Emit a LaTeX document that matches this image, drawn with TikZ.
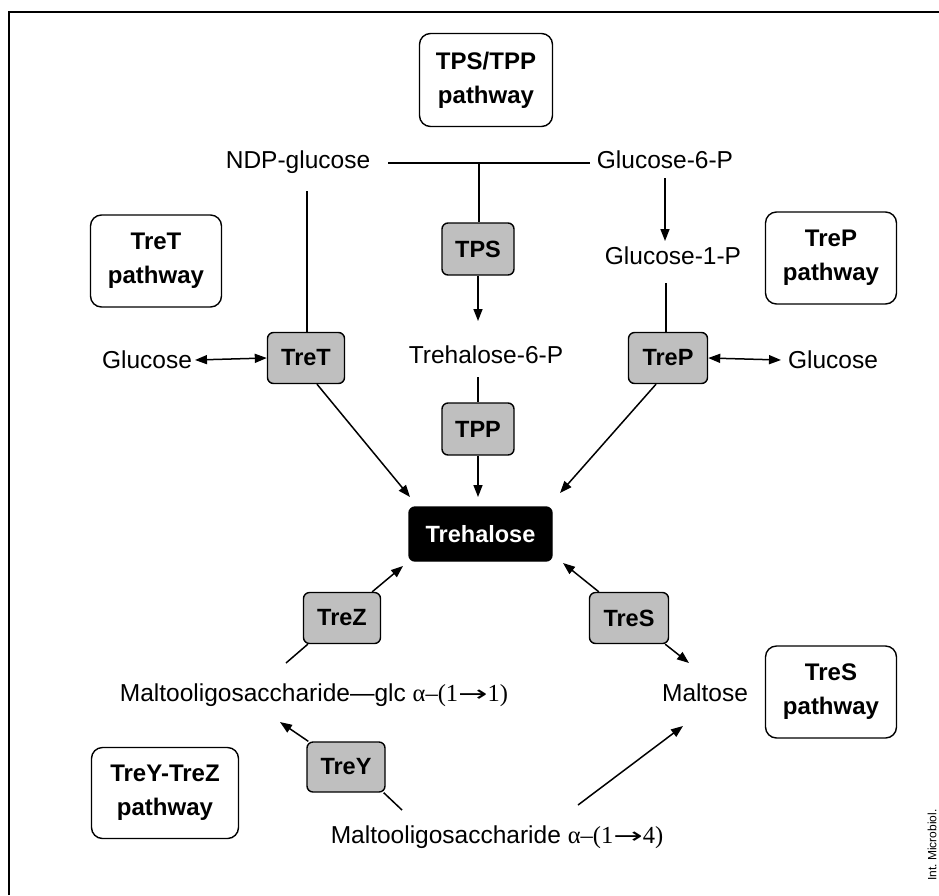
\documentclass[tikz,border=0pt]{standalone}
\usepackage{fontspec}
\setmainfont{Liberation Sans}
\newfontfamily\symfnt{Liberation Serif}
\newfontfamily\arrfnt{DejaVu Sans}
\usetikzlibrary{arrows.meta,calc}
\tikzset{
  lbl/.style={font=\fontsize{24.5}{29}\selectfont, inner sep=0pt, anchor=base},
  pw/.style={draw, line width=1.4pt, rounded corners=11pt, fill=white, align=center,
    font=\fontsize{24}{34}\selectfont\bfseries, inner sep=0pt,
    minimum width=131pt, minimum height=92pt},
  enz/.style={draw, line width=1.4pt, rounded corners=6pt, fill=black!25,
    font=\fontsize{23.5}{28}\selectfont\bfseries, inner sep=0pt,
    minimum width=77pt, minimum height=51pt},
  tre/.style={draw, line width=1.4pt, fill=black, text=white, rounded corners=6pt,
    font=\fontsize{23.5}{28}\selectfont\bfseries, inner sep=0pt,
    minimum width=143pt, minimum height=54pt},
  ln/.style={line width=1.5pt},
  arr/.style={ln, -{Triangle[length=12pt,width=9pt]}},
  darr/.style={ln, {Triangle[length=12pt,width=9pt]}-{Triangle[length=12pt,width=9pt]}},
}
\newcommand{\alphalink}[1]{{\symfnt α–(1{\arrfnt\fontsize{22}{26}\selectfont\scalebox{1.6}[1]{→}}#1)}}
\begin{document}
\begin{tikzpicture}[x=1pt,y=-1pt]
\useasboundingbox (0,0) rectangle (939,895);
% frame
\draw[line width=1.4pt] (9,895) -- (9,12) -- (939,12);

% pathway boxes
\node[pw, minimum width=133pt, minimum height=93pt] (tpsp) at (486,80) {TPS/TPP\\pathway};
\node[pw] (tretp) at (156,261) {TreT\\pathway};
\node[pw] (trepp) at (831,258) {TreP\\pathway};
\node[pw] (tresp) at (831,692) {TreS\\pathway};
\node[pw, minimum width=147pt, minimum height=91pt] (treyp) at (165,793) {TreY-TreZ\\pathway};

% enzymes
\node[enz, minimum width=72pt, minimum height=52pt] (tps) at (478,249) {TPS};
\node[enz] (tret) at (306,358) {TreT};
\node[enz, minimum width=79pt] (trep) at (668,358) {TreP};
\node[enz, minimum width=72pt, minimum height=52pt] (tpp) at (478,429) {TPP};
\node[enz] (trez) at (342,618) {TreZ};
\node[enz, minimum width=79pt] (tres) at (629,618) {TreS};
\node[enz, minimum width=78pt, minimum height=50pt] (trey) at (346,767) {TreY};

% trehalose
\node[tre] (treh) at (480.5,534) {Trehalose};

% metabolites
\node[lbl] (ndp) at (298,168) {NDP-glucose};
\node[lbl] (g6p) at (665,168) {Glucose-6-P};
\node[lbl] (g1p) at (673,264) {Glucose-1-P};
\node[lbl] (t6p) at (486,363) {Trehalose-6-P};
\node[lbl] (glcl) at (147,368) {Glucose};
\node[lbl] (glcr) at (833,368) {Glucose};
\node[lbl] (m11) at (314,701) {Maltooligosaccharide---glc \alphalink{1}};
\node[lbl] (malt) at (705,701) {Maltose};
\node[lbl] (m14) at (497,843) {Maltooligosaccharide \alphalink{4}};

\node[rotate=90, font=\fontsize{12}{14}\selectfont, inner sep=0pt] (src) at (932,845) {Int.\ Microbiol.};

% free ends
\coordinate (hl) at (388,163);
\coordinate (hr) at (590,163);
\coordinate (hj) at (479,163);
\coordinate (ndpb) at (307,191);
\coordinate (t6pa) at (478,321);
\coordinate (t6pb) at (478,377);
\coordinate (g6pb) at (665,178);
\coordinate (g1pa) at (665,241);
\coordinate (g1pb) at (666,283);
\coordinate (glla) at (195,360);
\coordinate (glra) at (781,360);
\coordinate (tha) at (410,497);
\coordinate (thb) at (478,497);
\coordinate (thc) at (560,493);
\coordinate (thd) at (403,566);
\coordinate (the) at (563,563);
\coordinate (m11a) at (286,663);
\coordinate (m11b) at (280,722);
\coordinate (malta) at (689,663);
\coordinate (maltb) at (683,726);
\coordinate (m14a) at (402,810);
\coordinate (m14b) at (578,805);

% TPS/TPP
\draw[ln] (hl) -- (hr);
\draw[ln] (hj) -- (hj |- tps.north);
\draw[arr] (tps.south) -- (t6pa);
\draw[ln] (t6pb) -- (tpp.north);
\draw[arr] (tpp.south) -- (thb);
% TreT
\draw[ln] (ndpb) -- (ndpb |- tret.north);
\draw[darr] (glla) -- (tret.west);
\draw[arr] ([xshift=11pt]tret.south) -- (tha);
% TreP
\draw[arr] (g6pb) -- (g1pa);
\draw[ln] (g1pb) -- (g1pb |- trep.north);
\draw[darr] (trep.east) -- (glra);
\draw[arr] ([xshift=-12pt]trep.south) -- (thc);
% TreZ / TreY
\draw[arr] ([xshift=-9pt]trez.north east) -- (thd);
\draw[ln] ([xshift=5pt]trez.south west) -- (m11a);
\draw[arr] ([xshift=2pt]trey.north west) -- (m11b);
\draw[ln] ([xshift=-2pt]trey.south east) -- (m14a);
% TreS
\draw[arr] ([xshift=10pt]tres.north west) -- (the);
\draw[arr] ([xshift=-4pt]tres.south east) -- (malta);
\draw[arr] (m14b) -- (maltb);
\end{tikzpicture}
\end{document}
